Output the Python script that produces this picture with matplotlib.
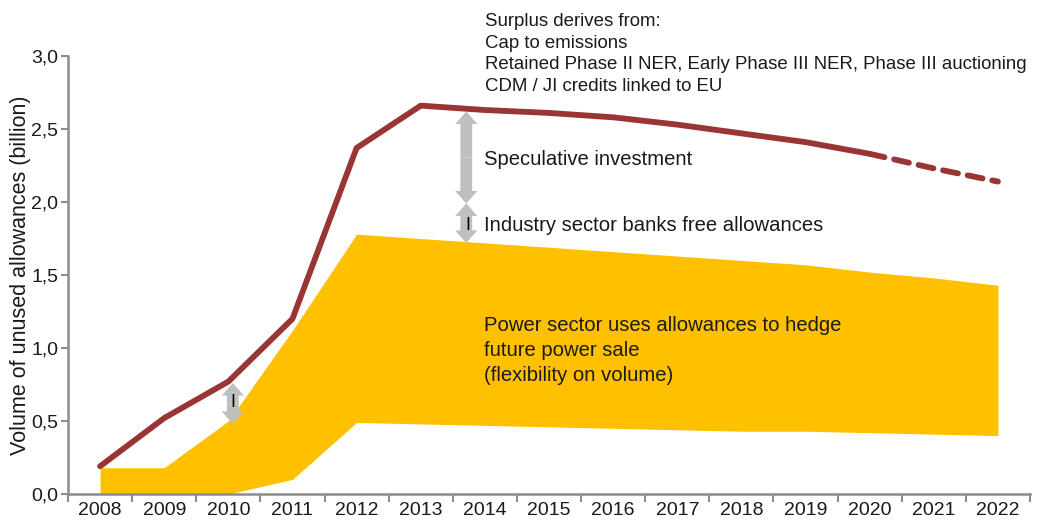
import numpy as np
import matplotlib.pyplot as plt
from matplotlib.patches import FancyArrowPatch

plt.rcParams['font.family'] = ['Liberation Sans', 'DejaVu Sans']

# данные
years = ['2008', '2009', '2010', '2011', '2012', '2013', '2014', '2015',
         '2016', '2017', '2018', '2019', '2020', '2021', '2022']
surplus = [0.19, 0.52, 0.77, 1.20, 2.37, 2.66, 2.63, 2.61, 2.58, 2.53,
           2.47, 2.41, 2.33, 2.23, 2.14]
hedge_upper = [0.18, 0.18, 0.50, 1.12, 1.78, 1.75, 1.72, 1.69, 1.66, 1.63,
               1.60, 1.57, 1.52, 1.48, 1.43]
hedge_lower = [0.0, 0.0, 0.0, 0.10, 0.49, 0.48, 0.47, 0.46, 0.45, 0.44,
               0.43, 0.43, 0.42, 0.41, 0.40]
y_ticks = [0.0, 0.5, 1.0, 1.5, 2.0, 2.5, 3.0]
y_labels = ['0,0', '0,5', '1,0', '1,5', '2,0', '2,5', '3,0']

red = '#993535'
yellow = '#FFC000'
grey = '#BFBFBF'
axis_col = '#8C8C8C'
txt = '#1A1A1A'

x = np.arange(len(years))
solid_end = years.index('2020')

fig = plt.figure(figsize=(10.37, 5.25), dpi=100)
ax = fig.add_axes([68/1037, 31/525, 962/1037, 438/525])

# жёлтая полоса
ax.fill_between(x, hedge_lower, hedge_upper, color=yellow, linewidth=0)

# красная линия (сплошная + пунктир)
ax.plot(x[:solid_end+1], surplus[:solid_end+1], color=red, lw=4.2,
        solid_capstyle='round', solid_joinstyle='round')
ax.plot(x[solid_end:], surplus[solid_end:], color=red, lw=4.2,
        dashes=(2.6, 1.7), dash_capstyle='round')

# стрелки
def double_arrow(xc, y0, y1):
    ym = (y0 + y1) / 2
    for yy in (y0, y1):
        ax.add_patch(FancyArrowPatch((xc, ym), (xc, yy),
                     arrowstyle='simple,head_length=0.9,head_width=1.6,tail_width=0.85',
                     mutation_scale=10, color=grey, shrinkA=0, shrinkB=0, lw=0))

double_arrow(5.71, 2.62, 1.99)
double_arrow(5.71, 1.99, 1.72)
double_arrow(2.07, 0.76, 0.48)
ax.text(2.07, 0.63, 'I', ha='center', va='center', fontsize=13, color='black')
ax.text(5.73, 1.84, 'I', ha='center', va='center', fontsize=13, color='black')

# подписи
fig.text(485/1037, 1 - 13/525,
         'Surplus derives from:\nCap to emissions\n'
         'Retained Phase II NER, Early Phase III NER, Phase III auctioning\n'
         'CDM / JI credits linked to EU',
         ha='left', va='top', fontsize=13.4, linespacing=1.35, color=txt)
ax.text(5.98, 2.29, 'Speculative investment', ha='left', va='center',
        fontsize=14.6, color=txt)
ax.text(5.98, 1.84, 'Industry sector banks free allowances', ha='left',
        va='center', fontsize=14.6, color=txt)
ax.text(5.98, 1.22, 'Power sector uses allowances to hedge\nfuture power sale\n'
        '(flexibility on volume)', ha='left', va='top', fontsize=14.6,
        linespacing=1.4, color=txt)

# оси
ax.set_xlim(-0.5, len(years) - 0.5)
ax.set_ylim(0, 3.0)
ax.set_xticks(x)
ax.set_xticklabels(years, fontsize=14, color=txt)
ax.set_xticks(np.arange(-0.5, len(years)), minor=True)
ax.tick_params(axis='x', which='major', length=0, pad=6)
ax.tick_params(axis='x', which='minor', length=6, color=axis_col, width=1.5)
ax.set_yticks(y_ticks)
ax.set_yticklabels(y_labels, fontsize=14, color=txt)
ax.tick_params(axis='y', length=5, color=axis_col, width=1.5, pad=2)
for s in ('top', 'right'):
    ax.spines[s].set_visible(False)
for s in ('left', 'bottom'):
    ax.spines[s].set_color(axis_col)
    ax.spines[s].set_linewidth(1.8)
ax.set_ylabel('Volume of unused allowances (billion)', fontsize=15.5,
              labelpad=0, color=txt)

fig.savefig('out.png', dpi=100)
